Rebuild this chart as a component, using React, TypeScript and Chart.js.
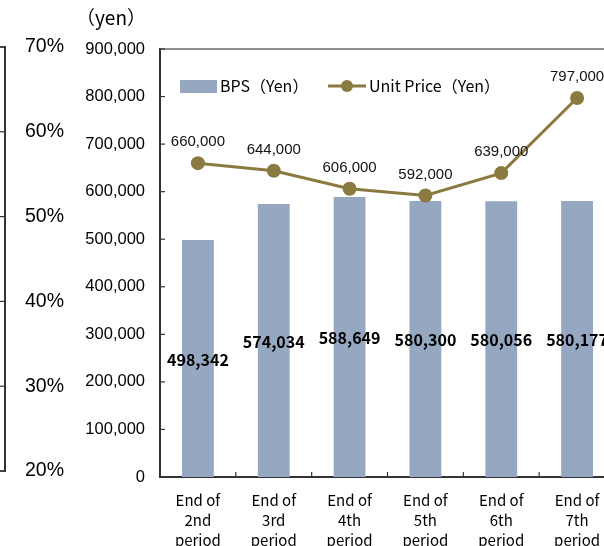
import { useEffect, useRef } from "react";
import { Chart, registerables } from "chart.js";

Chart.register(...registerables);

const categories: string[][] = [
  ["End of", "2nd", "period"],
  ["End of", "3rd", "period"],
  ["End of", "4th", "period"],
  ["End of", "5th", "period"],
  ["End of", "6th", "period"],
  ["End of", "7th", "period"],
];
const bpsValues = [498342, 574034, 588649, 580300, 580056, 580177];
const unitPriceValues = [660000, 644000, 606000, 592000, 639000, 797000];
const yenTicks = [0, 100000, 200000, 300000, 400000, 500000, 600000, 700000, 800000, 900000];
const pctTicks = [20, 30, 40, 50, 60, 70];
const bpsLabel = "BPS（Yen）";
const priceLabel = "Unit Price（Yen）";
const yenUnit = "（yen）";

const BAR_COLOR = "#95A7C1";
const LINE_COLOR = "#8B7A40";
const JP = "'Noto Sans CJK JP', sans-serif";
const LAT = "'Liberation Sans', Arial, sans-serif";

const fmt = (v: number) => v.toLocaleString("en-US");

const mainPlugin = {
  id: "mainDecor",
  afterDraw(chart: any) {
    const { ctx, chartArea } = chart;
    const { left, right, top, bottom } = chartArea;
    ctx.save();
    // top border
    ctx.strokeStyle = "#6b6b6b";
    ctx.lineWidth = 1.5;
    ctx.beginPath();
    ctx.moveTo(left, top);
    ctx.lineTo(right, top);
    ctx.stroke();
    // inward ticks
    ctx.strokeStyle = "#333";
    ctx.lineWidth = 1.2;
    const ys = chart.scales.y;
    ys.ticks.forEach((t: any) => {
      const y = ys.getPixelForValue(t.value);
      ctx.beginPath();
      ctx.moveTo(left, y);
      ctx.lineTo(left + 5, y);
      ctx.stroke();
    });
    const xs = chart.scales.x;
    const n = chart.data.labels.length;
    for (let i = 1; i <= n; i++) {
      const x =
        i < n
          ? (xs.getPixelForValue(i - 1) + xs.getPixelForValue(i)) / 2
          : right;
      ctx.beginPath();
      ctx.moveTo(x, bottom);
      ctx.lineTo(x, bottom - 5);
      ctx.stroke();
    }
    // unit text
    ctx.fillStyle = "#000";
    ctx.font = `19px ${JP}`;
    ctx.textAlign = "center";
    ctx.textBaseline = "middle";
    ctx.fillText(yenUnit, left - 49, 18);
    // legend
    const ds0 = chart.data.datasets[0];
    const ds1 = chart.data.datasets[1];
    const ly = top + 37;
    ctx.fillStyle = ds0.backgroundColor;
    ctx.fillRect(left + 20, ly - 6, 37, 13);
    ctx.fillStyle = "#000";
    ctx.font = `16px ${JP}`;
    ctx.textAlign = "left";
    ctx.fillText(ds0.label, left + 60, ly);
    ctx.strokeStyle = ds1.borderColor;
    ctx.lineWidth = 3;
    ctx.beginPath();
    ctx.moveTo(left + 168, ly);
    ctx.lineTo(left + 206, ly);
    ctx.stroke();
    ctx.fillStyle = ds1.borderColor;
    ctx.beginPath();
    ctx.arc(left + 187, ly, 6, 0, Math.PI * 2);
    ctx.fill();
    ctx.fillStyle = "#000";
    ctx.fillText(ds1.label, left + 209, ly);
    ctx.restore();
  },
  afterDatasetsDraw(chart: any) {
    const { ctx } = chart;
    ctx.save();
    ctx.textAlign = "center";
    ctx.textBaseline = "middle";
    chart.data.datasets.forEach((ds: any, di: number) => {
      const meta = chart.getDatasetMeta(di);
      meta.data.forEach((el: any, i: number) => {
        const txt = fmt(ds.data[i]);
        if (meta.type === "bar") {
          ctx.fillStyle = "#000";
          ctx.font = `bold 16px ${JP}`;
          ctx.fillText(txt, el.x, (el.y + el.base) / 2 + 1);
        } else {
          ctx.fillStyle = "#111";
          ctx.font = `15px ${LAT}`;
          ctx.fillText(txt, el.x, el.y - 21);
        }
      });
    });
    ctx.restore();
  },
};

const leftPlugin = {
  id: "leftDecor",
  afterDraw(chart: any) {
    const { ctx, chartArea } = chart;
    const { left, right, top, bottom } = chartArea;
    ctx.save();
    ctx.strokeStyle = "#333";
    ctx.lineWidth = 1.5;
    ctx.beginPath();
    ctx.moveTo(left, top);
    ctx.lineTo(right, top);
    ctx.moveTo(left, bottom);
    ctx.lineTo(right, bottom);
    ctx.stroke();
    const ys = chart.scales.y;
    ctx.lineWidth = 1.2;
    ys.ticks.forEach((t: any) => {
      const y = ys.getPixelForValue(t.value);
      ctx.beginPath();
      ctx.moveTo(right, y);
      ctx.lineTo(right - 5, y);
      ctx.stroke();
    });
    ctx.restore();
  },
};

export default function App() {
  const mainRef = useRef<HTMLCanvasElement>(null);
  const leftRef = useRef<HTMLCanvasElement>(null);

  useEffect(() => {
    const main = new Chart(mainRef.current as HTMLCanvasElement, {
      type: "bar",
      data: {
        labels: categories as any,
        datasets: [
          {
            type: "bar",
            label: bpsLabel,
            data: bpsValues,
            backgroundColor: BAR_COLOR,
            barPercentage: 0.42,
            categoryPercentage: 1,
            order: 2,
          } as any,
          {
            type: "line",
            label: priceLabel,
            data: unitPriceValues,
            borderColor: LINE_COLOR,
            backgroundColor: LINE_COLOR,
            borderWidth: 3,
            pointRadius: 7,
            pointBorderWidth: 0,
            pointBackgroundColor: LINE_COLOR,
            tension: 0,
            order: 1,
          } as any,
        ],
      },
      options: {
        responsive: false,
        animation: false,
        layout: { padding: { top: 49, right: 1, left: 0, bottom: 0 } },
        plugins: { legend: { display: false }, tooltip: { enabled: false } },
        scales: {
          x: {
            offset: true,
            grid: { display: false, drawTicks: false },
            border: { display: true, color: "#333", width: 2 },
            ticks: {
              color: "#000",
              font: { family: JP, size: 15, lineHeight: 1.3333 },
              padding: 13,
              maxRotation: 0,
              autoSkip: false,
            },
            afterFit: (s: any) => {
              s.height = 69;
            },
          },
          y: {
            min: 0,
            max: 900000,
            grid: { display: false, drawTicks: false },
            border: { display: true, color: "#333", width: 2 },
            afterBuildTicks: (s: any) => {
              s.ticks = yenTicks.map((v) => ({ value: v }));
            },
            ticks: {
              color: "#000",
              font: { family: LAT, size: 16.5 },
              padding: 15,
              callback: (v: any) => fmt(Number(v)),
            },
            afterFit: (s: any) => {
              s.width = 160;
            },
          },
        },
      },
      plugins: [mainPlugin],
    });

    const left = new Chart(leftRef.current as HTMLCanvasElement, {
      type: "line",
      data: {
        labels: [""],
        datasets: [{ label: "", data: [] }],
      },
      options: {
        responsive: false,
        animation: false,
        layout: { padding: { top: 47, right: 0, left: 0, bottom: 75 } },
        plugins: { legend: { display: false }, tooltip: { enabled: false } },
        scales: {
          x: { display: false },
          y: {
            position: "right",
            min: 20,
            max: 70,
            grid: { display: false, drawTicks: false },
            border: { display: true, color: "#333", width: 2 },
            afterBuildTicks: (s: any) => {
              s.ticks = pctTicks.map((v) => ({ value: v }));
            },
            ticks: {
              color: "#000",
              font: { family: LAT, size: 19.5 },
              padding: 20,
              callback: (v: any) => `${v}%`,
            },
            afterFit: (s: any) => {
              s.width = 95;
            },
          },
        },
      },
      plugins: [leftPlugin],
    });

    return () => {
      main.destroy();
      left.destroy();
    };
  }, []);

  return (
    <div
      style={{
        position: "fixed",
        left: 0,
        top: 0,
        width: 604,
        height: 546,
        overflow: "hidden",
        background: "#fff",
      }}
    >
      <canvas
        ref={leftRef}
        width={400}
        height={546}
        style={{ position: "absolute", left: -300, top: 0, width: 400, height: 546 }}
      />
      <canvas
        ref={mainRef}
        width={622}
        height={546}
        style={{ position: "absolute", left: 0, top: 0, width: 622, height: 546 }}
      />
    </div>
  );
}
